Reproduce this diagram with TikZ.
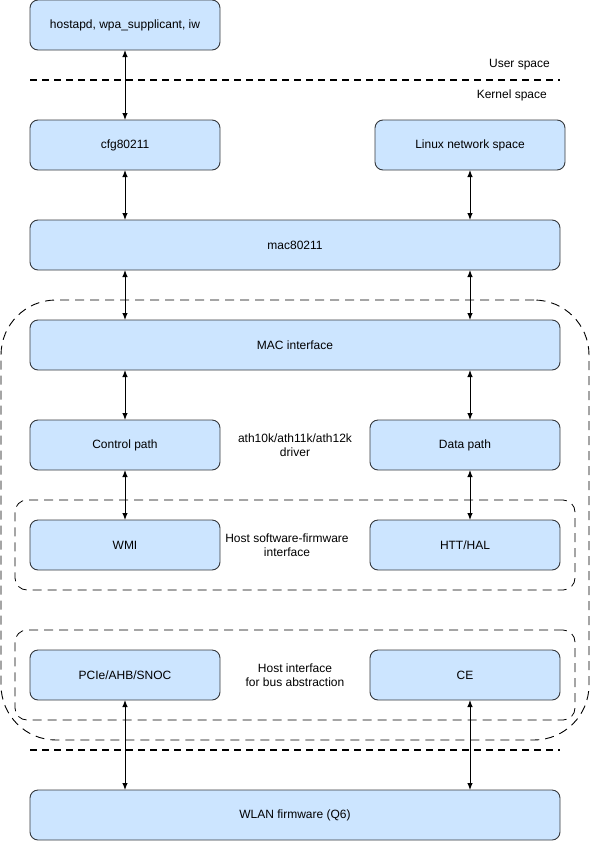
\documentclass[tikz,border=0pt]{standalone}
\usepackage{fontspec}
\setmainfont{Liberation Sans}
\usetikzlibrary{positioning,arrows.meta}
\definecolor{boxfill}{HTML}{CCE5FF}
\definecolor{boxline}{HTML}{36393D}
\begin{document}
\begin{tikzpicture}[x=1pt, y=-1pt,
    font=\fontsize{12}{14.5}\selectfont,
    blk/.style={draw=boxline, fill=boxfill, line width=0.9pt, rounded corners=8pt,
      minimum width=190pt, minimum height=50pt, inner sep=0pt, outer sep=0pt},
    wide/.style={blk, minimum width=530pt},
    lbl/.style={align=center, inner sep=0pt},
    grp/.style={draw, dash pattern=on 9pt off 6pt, line width=0.8pt, rounded corners=12pt,
      minimum width=560pt, minimum height=90pt, inner sep=0pt},
    sep/.style={line width=2pt, dash pattern=on 7pt off 5pt},
    arr/.style={{Latex[length=7pt,width=5.5pt]}-{Latex[length=7pt,width=5.5pt]}, line width=1pt}]
  \useasboundingbox (0,0) rectangle (591,841);

  \node[draw, dash pattern=on 9pt off 6pt, line width=0.9pt, rounded corners=55pt,
    minimum width=588pt, minimum height=440pt, inner sep=0pt] (drvbox) at (295,520) {};
  \node[grp] (hsfibox) at (295,545) {};
  \node[grp] (hbusbox) at (295,675) {};

  \node[blk] (hostapd) at (125,25) {hostapd, wpa\_supplicant, iw};
  \node[blk, below=70pt of hostapd] (cfg) {cfg80211};
  \node[blk, right=155pt of cfg] (linux) {Linux network space};
  \node[wide, below=50pt of cfg.south west, anchor=north west] (mac) {mac80211};
  \node[wide, below=50pt of mac] (macif) {MAC interface};
  \node[blk, below=50pt of macif.south west, anchor=north west] (ctrl) {Control path};
  \node[blk, below=50pt of macif.south east, anchor=north east] (data) {Data path};
  \node[blk, below=50pt of ctrl] (wmi) {WMI};
  \node[blk, below=50pt of data] (htt) {HTT/HAL};
  \node[blk, below=80pt of wmi] (pcie) {PCIe/AHB/SNOC};
  \node[blk, below=80pt of htt] (ce) {CE};
  \node[wide, below=90pt of pcie.south west, anchor=north west] (fw) {WLAN firmware (Q6)};

  \node[lbl, anchor=east] (user) at (550,65) {User space};
  \node[lbl, anchor=east] (kernel) at (547,95) {Kernel space};
  \node[lbl] (drv) at (295,445) {ath10k/ath11k/ath12k\\driver};
  \node[lbl] (hsfi) at (287,545) {Host software-firmware\\interface};
  \node[lbl] (hbus) at (295,675) {Host interface\\for bus abstraction};

  \coordinate (s1a) at (30,80);
  \coordinate (s1b) at (560,80);
  \coordinate (s2a) at (30,750);
  \coordinate (s2b) at (560,750);
  \draw[sep] (s1a) -- (s1b);
  \draw[sep] (s2a) -- (s2b);

  \draw[arr] (hostapd) -- (cfg);
  \draw[arr] (cfg) -- (mac.north -| cfg);
  \draw[arr] (linux) -- (mac.north -| linux);
  \draw[arr] (mac.south -| cfg) -- (macif.north -| cfg);
  \draw[arr] (mac.south -| linux) -- (macif.north -| linux);
  \draw[arr] (macif.south -| ctrl) -- (ctrl);
  \draw[arr] (macif.south -| linux) -- (data.north -| linux);
  \draw[arr] (ctrl) -- (wmi);
  \draw[arr] (data.south -| linux) -- (htt.north -| linux);
  \draw[arr] (pcie) -- (fw.north -| pcie);
  \draw[arr] (ce.south -| linux) -- (fw.north -| linux);
\end{tikzpicture}
\end{document}
